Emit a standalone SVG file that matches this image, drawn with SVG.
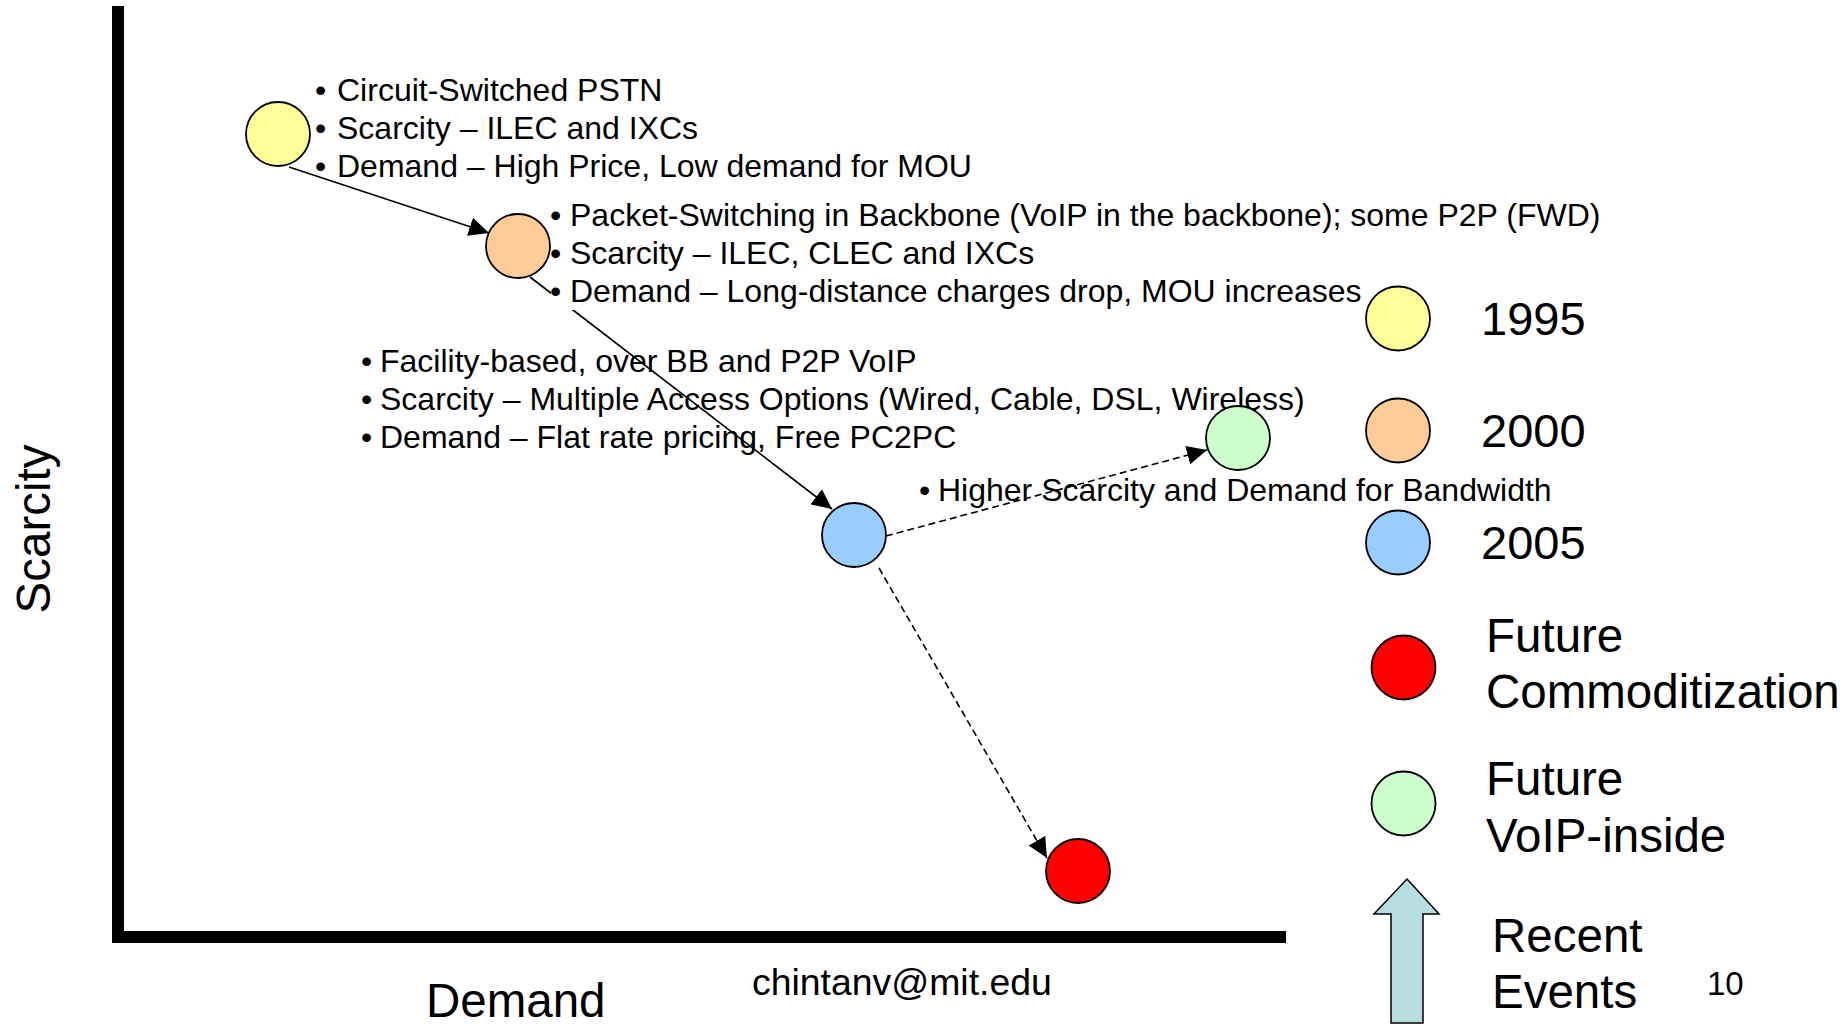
<svg xmlns="http://www.w3.org/2000/svg" width="1845" height="1027" viewBox="0 0 1845 1027">
  <defs>
    <marker id="head" markerUnits="userSpaceOnUse" markerWidth="20" markerHeight="19" refX="20" refY="9.5" orient="auto">
      <path d="M0,0 L20,9.5 L0,19 z" fill="#000"/>
    </marker>
    <style>
      text { font-family: "Liberation Sans", Arial, sans-serif; fill: #000; }
      .bul { font-size: 32px; }
      .leg { font-size: 47.5px; }
      .year { font-size: 47px; }
      .axis { font-size: 47.5px; }
      .dot { stroke: #000; stroke-width: 1.8; }
      .link { fill: none; stroke: #000; stroke-width: 1.6; marker-end: url(#head); }
      .dash { stroke-dasharray: 7 4; }
    </style>
  </defs>

  <rect width="1845" height="1027" fill="#fff"/>

  <!-- axes -->
  <g id="axes">
    <rect x="112" y="6" width="12" height="937" fill="#000"/>
    <rect x="112" y="931" width="1174" height="12" fill="#000"/>
    <text class="axis" transform="translate(50,529) rotate(-90)" text-anchor="middle">Scarcity</text>
    <text class="axis" x="426" y="1017">Demand</text>
  </g>

  <!-- 1995 description -->
  <g id="text-1995" class="bul">
    <text x="315" y="101">•</text><text x="337" y="101">Circuit-Switched PSTN</text>
    <text x="315" y="139">•</text><text x="337" y="139">Scarcity – ILEC and IXCs</text>
    <text x="315" y="177">•</text><text x="337" y="177">Demand – High Price, Low demand for MOU</text>
  </g>

  <!-- 2005 description (sits under the connectors) -->
  <g id="text-2005" class="bul">
    <text x="361" y="372">•</text><text x="380" y="372">Facility-based, over BB and P2P VoIP</text>
    <text x="361" y="410">•</text><text x="380" y="410">Scarcity – Multiple Access Options (Wired, Cable, DSL, Wireless)</text>
    <text x="361" y="448">•</text><text x="380" y="448">Demand – Flat rate pricing, Free PC2PC</text>
  </g>

  <!-- future description -->
  <g id="text-future" class="bul">
    <text x="919" y="501">•</text><text x="938" y="501">Higher Scarcity and Demand for Bandwidth</text>
  </g>

  <!-- connectors -->
  <g id="connectors">
    <line class="link" x1="289" y1="167" x2="489" y2="233"/>
    <line class="link" x1="530" y1="277" x2="832" y2="509"/>
    <line class="link dash" x1="886" y1="536" x2="1207" y2="450"/>
    <line class="link dash" x1="879" y1="568" x2="1047" y2="858"/>
  </g>

  <!-- 2000 description in a white-filled box -->
  <g id="text-2000" class="bul">
    <rect x="551" y="198" width="812" height="112" fill="#fff"/>
    <text x="550" y="226">•</text><text x="570" y="226">Packet-Switching in Backbone (VoIP in the backbone); some P2P (FWD)</text>
    <text x="550" y="264">•</text><text x="570" y="264">Scarcity – ILEC, CLEC and IXCs</text>
    <text x="550" y="302">•</text><text x="570" y="302">Demand – Long-distance charges drop, MOU increases</text>
  </g>

  <!-- nodes -->
  <g id="node-1995"><circle class="dot" cx="278" cy="134" r="32" fill="#FFFF99"/></g>
  <g id="node-2000"><circle class="dot" cx="518" cy="246" r="32" fill="#FFCC99"/></g>
  <g id="node-2005"><circle class="dot" cx="854" cy="535" r="32" fill="#99CCFF"/></g>
  <g id="node-future-voip"><circle class="dot" cx="1238" cy="438" r="32" fill="#CCFFCC"/></g>
  <g id="node-future-commod"><circle class="dot" cx="1078" cy="871" r="32" fill="#FF0000"/></g>

  <!-- legend -->
  <g id="legend" class="leg">
    <circle class="dot" cx="1398" cy="318.5" r="32" fill="#FFFF99"/>
    <text class="year" x="1481" y="335">1995</text>
    <circle class="dot" cx="1398" cy="430.5" r="32" fill="#FFCC99"/>
    <text class="year" x="1481" y="447">2000</text>
    <circle class="dot" cx="1398" cy="542.5" r="32" fill="#99CCFF"/>
    <text class="year" x="1481" y="559">2005</text>
    <circle class="dot" cx="1403.5" cy="667.5" r="32" fill="#FF0000"/>
    <text x="1486" y="652">Future</text>
    <text x="1486" y="708">Commoditization</text>
    <circle class="dot" cx="1403.5" cy="803.5" r="32" fill="#CCFFCC"/>
    <text x="1486" y="795">Future</text>
    <text x="1486" y="852">VoIP-inside</text>
    <polygon points="1407,879 1439,914 1423,914 1423,1023 1391,1023 1391,914 1374,914" fill="#B7DDE0" stroke="#000" stroke-width="1.5"/>
    <text x="1492" y="952">Recent</text>
    <text x="1492" y="1008">Events</text>
  </g>

  <!-- footer -->
  <g id="footer">
    <text x="752" y="995" font-size="37.4">chintanv@mit.edu</text>
    <text x="1707" y="995" font-size="33">10</text>
  </g>
</svg>
